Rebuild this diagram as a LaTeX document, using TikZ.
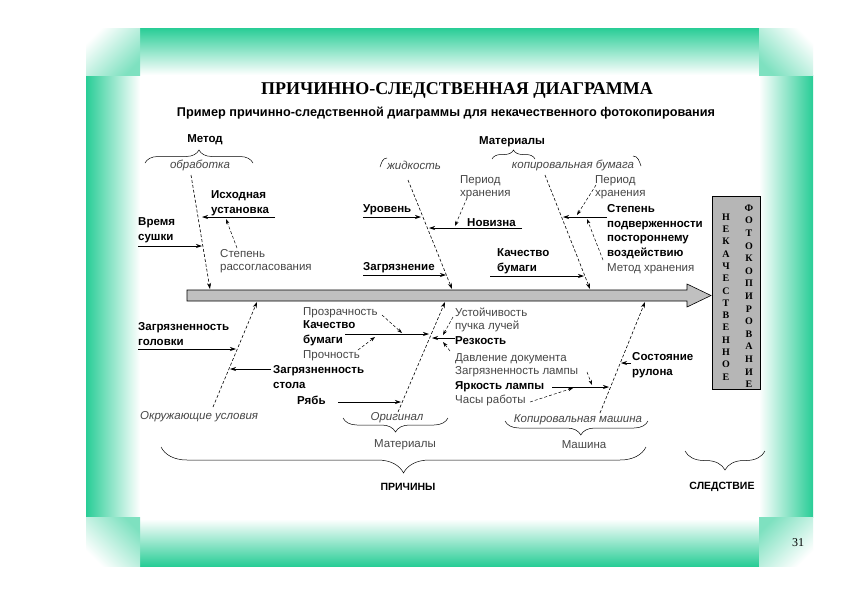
\documentclass[tikz,border=0pt]{standalone}
\usepackage{fontspec}
\setmainfont{Liberation Sans}
\newfontfamily\seriffont{Liberation Serif}
\usetikzlibrary{arrows.meta,decorations.pathreplacing}
\definecolor{frameg}{RGB}{40,205,150}
\definecolor{spinegray}{RGB}{192,192,192}
\definecolor{boxgray}{RGB}{182,182,182}
\definecolor{softtext}{RGB}{70,70,70}
\tikzset{
 lbl/.style={font=\fontsize{11.5}{14.5}\selectfont\bfseries, inner sep=0pt, align=left, anchor=north west},
 note/.style={font=\fontsize{11.5}{13}\selectfont, text=softtext, inner sep=0pt, align=left, anchor=north west},
 itl/.style={font=\fontsize{11.5}{13}\selectfont\itshape, text=softtext, inner sep=0pt},
 bone/.style={densely dashed, line width=0.6pt, -{Stealth[length=6pt,width=4pt]}},
 cause/.style={line width=0.7pt, -{Stealth[length=6pt,width=4pt]}},
 subarr/.style={densely dashed, line width=0.5pt, -{Stealth[length=5pt,width=3.5pt]}},
 brc/.style={decorate, decoration={brace, amplitude=#1}, line width=0.5pt},
 vlet/.style={font=\seriffont\fontsize{10}{10}\selectfont\bfseries, inner sep=0pt},
}
\begin{document}
\begin{tikzpicture}[x=1pt,y=-1pt]
\useasboundingbox (0,0) rectangle (842,595);
\fill[white] (0,0) rectangle (842,595);
% frame
\shade[top color=frameg, bottom color=white] (140,28) rectangle (759,75);
\shade[top color=white, bottom color=frameg] (140,519) rectangle (759,566);
\shade[left color=frameg, right color=white] (86,75) rectangle (140,517);
\shade[left color=white, right color=frameg] (759,75) rectangle (813,517);
\shade[shading=axis, top color=white, bottom color=frameg!60, shading angle=45] (86,28) rectangle (140,75);
\shade[shading=axis, top color=white, bottom color=frameg!60, shading angle=-45] (759,28) rectangle (813,75);
\shade[shading=axis, top color=frameg!60, bottom color=white, shading angle=-45] (86,517) rectangle (140,566);
\shade[shading=axis, top color=frameg!60, bottom color=white, shading angle=45] (759,517) rectangle (813,566);
\node[font=\seriffont\fontsize{12}{12}\selectfont, inner sep=0pt] (pnum) at (798,543) {31};

% titles
\node[font=\seriffont\fontsize{18}{18}\selectfont\bfseries, inner sep=0pt] (title) at (457,90) {ПРИЧИННО-СЛЕДСТВЕННАЯ ДИАГРАММА};
\node[font=\fontsize{12.7}{12.7}\selectfont\bfseries, inner sep=0pt] (subtitle) at (446,113) {Пример причинно-следственной диаграммы для некачественного фотокопирования};

% spine
\draw[fill=spinegray, line width=0.6pt] (187,290) -- (687,290) -- (687,284) -- (711,295.5) -- (687,307) -- (687,301) -- (187,301) -- cycle;
\node[draw, fill=boxgray, line width=0.6pt, minimum width=48pt, minimum height=193pt, inner sep=0pt] (effect) at (736,292.5) {};
\foreach \l [count=\i] in {Н,Е,К,А,Ч,Е,С,Т,В,Е,Н,Н,О,Е}
  \node[vlet] (ea\i) at (726,{217+(\i-1)*12.3}) {\l};
\foreach \l [count=\i] in {Ф,О,Т,О,К,О,П,И,Р,О,В,А,Н,И,Е}
  \node[vlet] (eb\i) at (749,{208+(\i-1)*12.6}) {\l};

% category labels
\node[lbl, anchor=center] (metod) at (205,140) {Метод};
\node[itl] (obr) at (200,165) {обработка};
\draw[brc=13pt] (145,163) -- (253,163);
\node[lbl, anchor=center] (mat) at (512,142) {Материалы};
\draw[brc=9pt] (492,159) -- (535,159);
\node[itl] (zhid) at (414,165) {жидкость};
\draw[line width=0.5pt] (387,158) to[out=180,in=70] (380,167);
\node[itl] (kopb) at (573,165) {копировальная бумага};
\draw[line width=0.5pt] (633,156) to[out=0,in=110] (641,166);

\node[itl, anchor=west] (okr) at (140,417) {Окружающие условия};
\node[itl] (orig) at (397,418) {Оригинал};
\draw[brc=14pt] (448,418) -- (343,418);
\node[itl] (kopm) at (578,420) {Копировальная машина};
\draw[brc=14pt, decoration={aspect=0.47}] (648,421) -- (505,421);
\node[note, anchor=center] (matb) at (405,445) {Материалы};
\node[note, anchor=center] (mash) at (584,445) {Машина};
\draw[brc=26pt] (646,447) -- (161,447);
\node[lbl, anchor=center, font=\fontsize{10.5}{10.5}\selectfont\bfseries] (prich) at (408,487) {ПРИЧИНЫ};
\draw[brc=19pt] (765,451) -- (685,451);
\node[lbl, anchor=center, font=\fontsize{10.5}{10.5}\selectfont\bfseries] (sled) at (722,487) {СЛЕДСТВИЕ};

% bones
\coordinate (b1s) at (191,175); \coordinate (b1e) at (210,289);
\coordinate (b2s) at (408,180); \coordinate (b2e) at (452,289);
\coordinate (b3s) at (545,175); \coordinate (b3e) at (590,289);
\coordinate (b4s) at (213,407); \coordinate (b4e) at (257,302);
\coordinate (b5s) at (398,412); \coordinate (b5e) at (445,302);
\coordinate (b6s) at (600,413); \coordinate (b6e) at (645,302);
\foreach \b in {1,...,6} \draw[bone] (b\b s) -- (b\b e);

% causes: upper
\node[lbl] (ish) at (211,190.5) {Исходная\\установка};
\draw[cause] (275,217) -- (202,217);
\node[lbl] (vrem) at (138,217.5) {Время\\сушки};
\draw[cause] (138,246) -- (202,246);
\node[note] (stras) at (220,249.5) {Степень\\рассогласования};
\draw[subarr] (237,248) -- (226,219);

\node[lbl] (urov) at (363,204.5) {Уровень};
\draw[cause] (363,217) -- (421,217);
\node[lbl] (nov) at (467,218.5) {Новизна};
\draw[cause] (522,228) -- (429,228);
\node[note] (perh1) at (460,175.5) {Период\\хранения};
\draw[subarr] (467,198) -- (455,226);
\node[lbl] (zagr) at (363,262.5) {Загрязнение};
\draw[cause] (363,275) -- (446,275);
\node[lbl] (kbum1) at (497,248.5) {Качество\\бумаги};
\draw[cause] (490,276) -- (584,276);

\node[note] (perh2) at (595,175.5) {Период\\хранения};
\draw[subarr] (596,185) -- (577,215);
\node[lbl] (stpod) at (607,204.5) {Степень\\подверженности\\постороннему\\воздействию};
\draw[cause] (607,217) -- (563,217);
\node[note] (methr) at (607,263.5) {Метод хранения};
\draw[subarr] (603,260) -- (587,219);

% causes: lower
\node[lbl] (zgol) at (138,322.5) {Загрязненность\\головки};
\draw[cause] (138,349) -- (236,349);
\node[lbl] (zstol) at (273,365.5) {Загрязненность\\стола};
\draw[cause] (271,369) -- (230,369);
\node[lbl] (ryab) at (297,395.5) {Рябь};
\draw[cause] (338,402) -- (401,402);

\node[note] (prozr) at (303,307.5) {Прозрачность};
\draw[subarr] (382,315) -- (402,333);
\node[lbl] (kbum2) at (303,320.5) {Качество\\бумаги};
\draw[cause] (345,334) -- (429,334);
\node[note] (proch) at (303,350.5) {Прочность};
\draw[subarr] (358,350) -- (375,337);

\node[note] (ust) at (455,307.5) {Устойчивость\\пучка лучей};
\draw[subarr] (453,317) -- (443,335);
\node[lbl] (rezk) at (455,336.5) {Резкость};
\draw[cause] (455,338) -- (432,338);
\node[note] (davl) at (455,353.5) {Давление документа};
\draw[subarr] (450,351) -- (443,342);
\node[note] (zlamp) at (455,366.5) {Загрязненность лампы};
\draw[subarr] (587,372) -- (592,385);
\node[lbl] (yark) at (455,381.5) {Яркость лампы};
\draw[cause] (552,387) -- (609,387);
\node[note] (chas) at (455,394.5) {Часы работы};
\draw[subarr] (530,402) -- (573,388);

\node[lbl] (sost) at (632,352.5) {Состояние\\рулона};
\draw[cause] (631,363) -- (621,363);
\end{tikzpicture}
\end{document}
